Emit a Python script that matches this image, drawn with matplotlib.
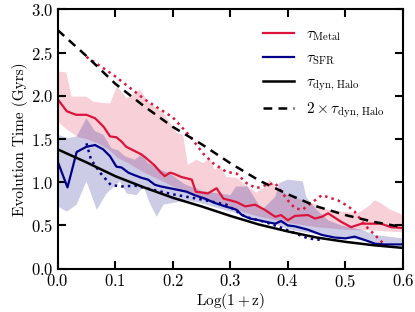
import numpy as np
import matplotlib
matplotlib.use("Agg")
import matplotlib.pyplot as plt

plt.rcParams['font.family'] = 'serif'
plt.rcParams['font.serif'] = ['cmr10']
plt.rcParams['mathtext.fontset'] = 'cm'
plt.rcParams['axes.unicode_minus'] = False
plt.rcParams['axes.formatter.use_mathtext'] = True

# tau_Metal (red) median line
metal_x = [0, 0.016, 0.032, 0.05, 0.065, 0.08, 0.091, 0.102, 0.111, 0.119, 0.131, 0.146, 0.157,
           0.169, 0.178, 0.186, 0.195, 0.201, 0.215, 0.233, 0.24, 0.261, 0.276, 0.288, 0.3, 0.311,
           0.326, 0.343, 0.36, 0.378, 0.388, 0.4, 0.412, 0.435, 0.447, 0.459, 0.47, 0.493, 0.51,
           0.528, 0.545, 0.562, 0.579, 0.6]
metal_y = [1.96, 1.82, 1.78, 1.78, 1.74, 1.64, 1.53, 1.52, 1.47, 1.41, 1.37, 1.32, 1.26,
           1.19, 1.12, 1.07, 1.11, 1.10, 1.06, 1.03, 0.89, 0.87, 0.93, 0.81, 0.79, 0.77,
           0.72, 0.74, 0.68, 0.60, 0.62, 0.56, 0.61, 0.62, 0.58, 0.60, 0.64, 0.54, 0.48,
           0.52, 0.52, 0.52, 0.48, 0.47]

# tau_Metal scatter band
metal_hi_x = [0, 0.015, 0.024, 0.05, 0.062, 0.091, 0.103, 0.12, 0.143, 0.16, 0.184, 0.207, 0.218,
              0.226, 0.241, 0.253, 0.264, 0.273, 0.281, 0.293, 0.311, 0.326, 0.345, 0.357, 0.368,
              0.38, 0.4, 0.45, 0.47, 0.493, 0.522, 0.54, 0.551, 0.561, 0.579, 0.6]
metal_hi_y = [2.28, 2.27, 1.99, 1.99, 1.93, 1.91, 2.11, 1.97, 2.07, 1.91, 1.80, 1.57, 1.55,
              1.20, 1.26, 1.22, 1.28, 1.14, 1.20, 1.06, 1.05, 0.97, 0.88, 0.93, 1.03,
              0.95, 0.85, 0.74, 0.68, 0.66, 0.64, 0.72, 0.79, 0.76, 0.68, 0.62]
metal_lo_x = [0, 0.018, 0.036, 0.05, 0.07, 0.088, 0.105, 0.123, 0.14, 0.16, 0.186, 0.2, 0.25,
              0.3, 0.35, 0.4, 0.45, 0.5, 0.55, 0.6]
metal_lo_y = [1.70, 1.60, 1.52, 1.50, 1.45, 1.38, 1.28, 1.22, 1.15, 1.08, 1.00, 0.95, 0.80,
              0.70, 0.60, 0.53, 0.48, 0.45, 0.44, 0.42]

# tau_Metal secondary (dotted)
metal_dot_x = [0.05, 0.097, 0.153, 0.2, 0.229, 0.253, 0.27, 0.293, 0.311, 0.328, 0.345, 0.363,
               0.378, 0.4, 0.412, 0.425, 0.447, 0.459, 0.487, 0.505, 0.516, 0.534, 0.548, 0.566, 0.58]
metal_dot_y = [2.45, 2.24, 1.95, 1.75, 1.54, 1.33, 1.22, 1.12, 1.10, 0.99, 0.93, 0.97,
               0.99, 0.79, 0.70, 0.68, 0.79, 0.85, 0.79, 0.72, 0.66, 0.50, 0.41, 0.29, 0.25]

# tau_SFR (blue) median line
sfr_x = [0, 0.017, 0.033, 0.05, 0.065, 0.079, 0.091, 0.102, 0.111, 0.123, 0.134, 0.146, 0.157,
         0.169, 0.18, 0.195, 0.21, 0.224, 0.238, 0.256, 0.273, 0.291, 0.302, 0.311, 0.32, 0.334,
         0.349, 0.363, 0.378, 0.388, 0.4, 0.412, 0.435, 0.459, 0.481, 0.5, 0.516, 0.534, 0.551,
         0.568, 0.6]
sfr_y = [1.24, 0.94, 1.35, 1.41, 1.43, 1.38, 1.30, 1.18, 1.17, 1.11, 1.08, 1.05, 1.03,
         0.97, 0.95, 0.93, 0.91, 0.89, 0.85, 0.81, 0.76, 0.72, 0.70, 0.68, 0.62, 0.58,
         0.56, 0.54, 0.52, 0.55, 0.50, 0.49, 0.45, 0.39, 0.36, 0.35, 0.37, 0.33, 0.29,
         0.28, 0.28]

# tau_SFR scatter band
sfr_hi_x = [0, 0.018, 0.033, 0.05, 0.065, 0.079, 0.094, 0.105, 0.117, 0.134, 0.146, 0.157, 0.169,
            0.18, 0.195, 0.22, 0.25, 0.27, 0.3, 0.31, 0.33, 0.355, 0.378, 0.385, 0.4, 0.426,
            0.432, 0.45, 0.47, 0.493, 0.528, 0.551, 0.6]
sfr_hi_y = [1.55, 1.51, 1.53, 1.74, 1.59, 1.55, 1.39, 1.37, 1.30, 1.26, 1.32, 1.22, 1.18,
            1.14, 1.10, 0.98, 0.90, 0.88, 0.85, 0.95, 0.95, 0.68, 0.83, 0.99, 1.03, 1.01,
            0.83, 0.68, 0.56, 0.50, 0.45, 0.39, 0.35]
sfr_lo_x = [0, 0.016, 0.033, 0.05, 0.068, 0.085, 0.108, 0.12, 0.137, 0.149, 0.16, 0.172, 0.184,
            0.224, 0.247, 0.3, 0.36, 0.41, 0.45, 0.5, 0.55, 0.6]
sfr_lo_y = [0.72, 0.66, 0.74, 1.01, 0.68, 0.87, 1.01, 0.87, 0.85, 0.95, 0.76, 0.60, 0.74,
            0.79, 0.76, 0.66, 0.55, 0.44, 0.40, 0.35, 0.31, 0.27]

# tau_SFR secondary (dotted)
sfr_dot_x = [0.05, 0.058, 0.075, 0.092, 0.11, 0.135, 0.16, 0.2, 0.25, 0.293, 0.326, 0.36,
             0.386, 0.412, 0.435, 0.46]
sfr_dot_y = [1.45, 1.26, 1.10, 0.97, 0.95, 0.96, 0.92, 0.86, 0.80, 0.74, 0.60, 0.54,
             0.48, 0.41, 0.35, 0.33]

# halo dynamical time
dyn_x = [0, 0.05, 0.1, 0.15, 0.2, 0.25, 0.3, 0.35, 0.4, 0.45, 0.5, 0.55, 0.6]
dyn_y = [1.38, 1.23, 1.07, 0.94, 0.82, 0.72, 0.61, 0.51, 0.43, 0.36, 0.31, 0.27, 0.24]

red = '#DC143C'
blue = '#00008B'

fig = plt.figure(figsize=(4.15, 3.12), dpi=100)
ax = fig.add_axes([0.139, 0.139, 0.832, 0.831])

ax.fill(metal_hi_x + metal_lo_x[::-1], metal_hi_y + metal_lo_y[::-1],
        color=red, alpha=0.2, lw=0)
ax.fill(sfr_hi_x + sfr_lo_x[::-1], sfr_hi_y + sfr_lo_y[::-1],
        color=blue, alpha=0.2, lw=0)

ax.plot(metal_dot_x, metal_dot_y, color=red, lw=1.8, ls=':')
ax.plot(sfr_dot_x, sfr_dot_y, color=blue, lw=1.8, ls=':')

ax.plot(metal_x, metal_y, color=red, lw=1.6, label=r'$\tau_{\rm Metal}$')
ax.plot(sfr_x, sfr_y, color=blue, lw=1.6, label=r'$\tau_{\rm SFR}$')
ax.plot(dyn_x, dyn_y, color='k', lw=1.8, label=r'$\tau_{\rm dyn,\,Halo}$')
ax.plot(dyn_x, 2 * np.array(dyn_y), color='k', lw=1.8, ls=(0, (3.5, 2.5)),
        label=r'$2\times\tau_{\rm dyn,\,Halo}$')

ax.set_xlim(0, 0.6)
ax.set_ylim(0, 3.0)
ax.set_xticks(np.arange(0, 0.61, 0.1))
ax.set_yticks(np.arange(0, 3.01, 0.5))
ax.tick_params(direction='in', length=6, width=1.5, top=True, right=True, labelsize=12, pad=3)
for s in ax.spines.values():
    s.set_linewidth(1.5)

ax.set_xlabel(r'Log$(1+{\rm z})$', fontsize=11, labelpad=1)
ax.set_ylabel('Evolution Time (Gyrs)', fontsize=11, labelpad=2)

ax.legend(loc='upper right', frameon=False, fontsize=11, handlelength=2.0,
          borderaxespad=0.8, labelspacing=0.55)

plt.savefig("out.png", dpi=100)
